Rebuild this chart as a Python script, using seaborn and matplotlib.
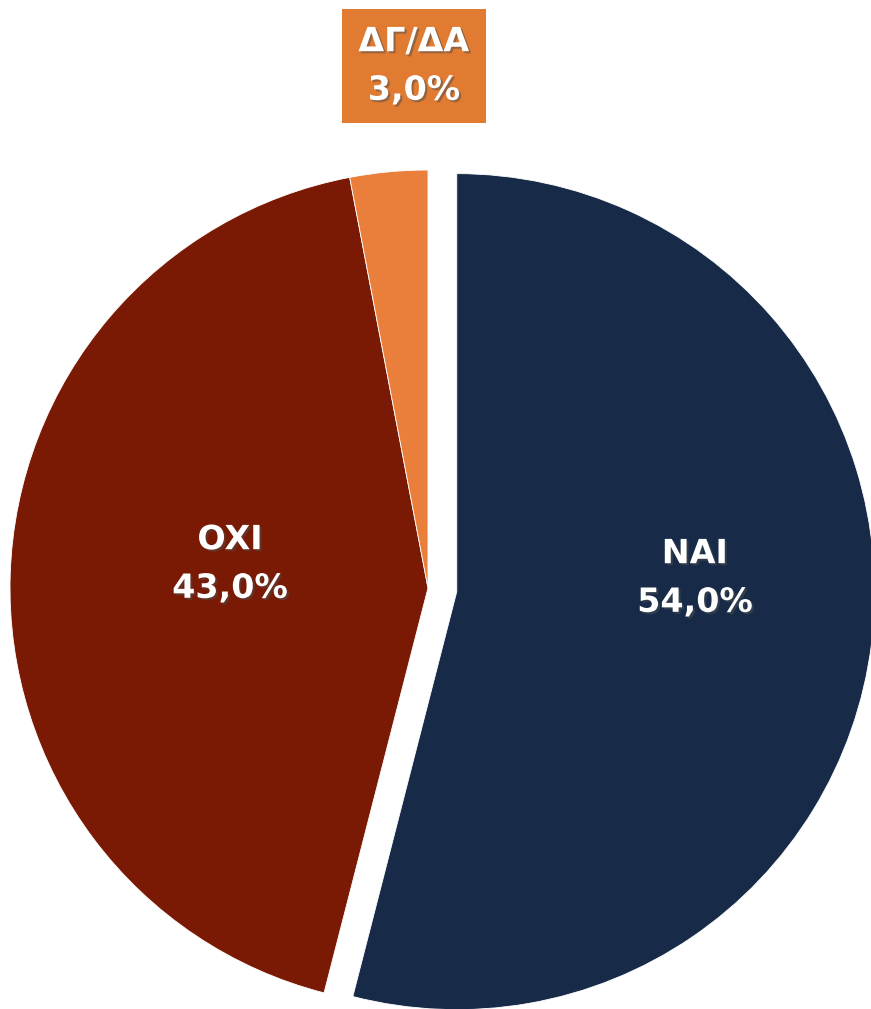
import matplotlib
matplotlib.use("Agg")
import matplotlib.pyplot as plt
import matplotlib.patheffects as pe
import seaborn as sns

# Data
labels = ["NAI", "OXI", "ΔΓ/ΔΑ"]
values = [54.0, 43.0, 3.0]
colors = ["#172B48", "#7A1A04", "#EA7F3C"]
explode = [29, 0, 0]

sns.set_theme(style="white")
plt.rcParams["font.family"] = ["DejaVu Sans"]

fig = plt.figure(figsize=(8.71, 10.09), dpi=100)
ax = fig.add_axes([0, 0, 1, 1])

wedges, _ = ax.pie(values, colors=colors, explode=explode, startangle=90,
                   counterclock=False, center=(428, 421), radius=418,
                   wedgeprops=dict(edgecolor="white", linewidth=0.6),
                   frame=True)
ax.set_xlim(0, 871)
ax.set_ylim(0, 1009)
ax.set_aspect("equal")
ax.axis("off")

shadow = [pe.SimplePatchShadow(offset=(1.5, -1.5), alpha=0.5), pe.Normal()]

def lab(i):
    return f"{labels[i]}\n{values[i]:.1f}%".replace(".", ",")

style = dict(ha="center", va="center", color="white", fontsize=24,
             fontweight="bold", linespacing=1.6, path_effects=shadow)

ax.text(695, 1009 - 578, lab(0), **style)
ax.text(230, 1009 - 564, lab(1), **style)
ax.text(414, 1009 - 66, lab(2), **style,
        bbox=dict(boxstyle="square,pad=0.5", facecolor="#E17B32", edgecolor="none"))

fig.savefig("out.png", dpi=100)
